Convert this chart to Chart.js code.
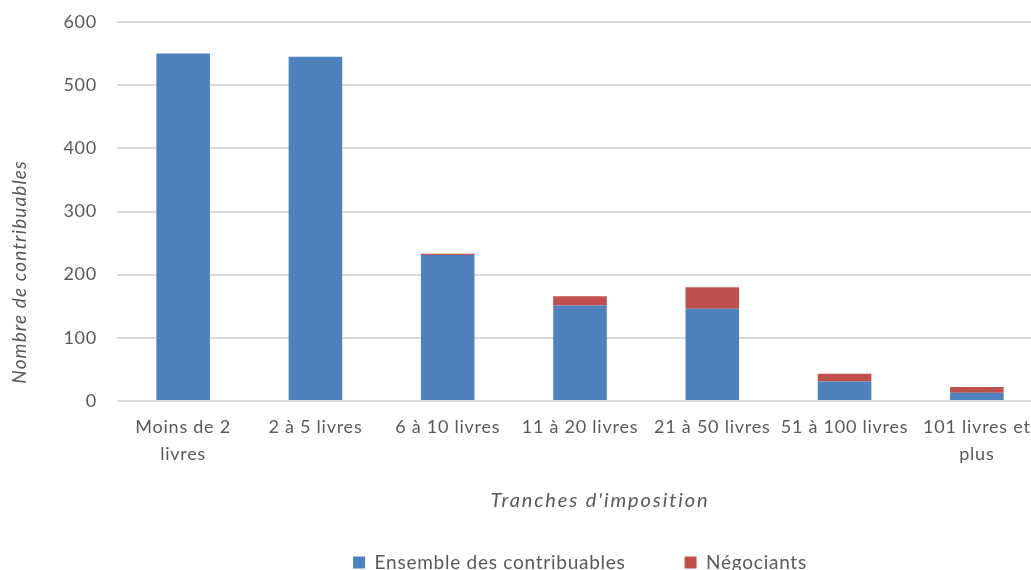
<!DOCTYPE html>
<html lang="fr">
<head>
<meta charset="utf-8">
<title>Nombre de contribuables par tranche d'imposition</title>
<script src="https://cdn.jsdelivr.net/npm/chart.js@4/dist/chart.umd.min.js"></script>
<style>
  html, body { margin: 0; padding: 0; background: #ffffff; overflow: hidden; }
  #wrap { width: 1045px; height: 582px; }
</style>
</head>
<body>
<div id="wrap"><canvas id="chart" width="1045" height="582"></canvas></div>
<script>
// Tranches d'imposition (multi-line labels as drawn under the axis)
const categories = [
  ["Moins de 2", "livres"],
  "2 à 5 livres",
  "6 à 10 livres",
  "11 à 20 livres",
  "21 à 50 livres",
  "51 à 100 livres",
  ["101 livres et", "plus"]
];

// Number of taxpayers in each bracket
const ensembleDesContribuables = [550, 545, 231, 151, 146, 31, 13];
const negociants = [0, 0, 2, 15, 34, 12, 9];

const seriesNames = ["Ensemble des contribuables", "Négociants"];
const yTicks = [0, 100, 200, 300, 400, 500, 600];
const xAxisTitle = "Tranches d'imposition";
const yAxisTitle = "Nombre de contribuables";

const FONT = "Lato, 'Open Sans', 'DejaVu Sans', sans-serif";
const TEXT_GREY = "#595959";

// Slightly open letter spacing for all chart text
const spacing = {
  id: 'spacing',
  beforeUpdate(chart, args, opts) { chart.ctx.letterSpacing = opts.value; },
  beforeDraw(chart, args, opts) { chart.ctx.letterSpacing = opts.value; }
};

// Axis titles placed like the spreadsheet layout (not centred on the plot)
const axisTitles = {
  id: 'axisTitles',
  afterDraw(chart, args, opts) {
    const { ctx, chartArea } = chart;
    ctx.save();
    ctx.fillStyle = opts.color;
    ctx.textAlign = 'center';
    ctx.textBaseline = 'middle';
    ctx.font = opts.xFont;
    ctx.letterSpacing = opts.xSpacing;
    ctx.fillText(opts.xText, chartArea.left + opts.xOffset, chartArea.bottom + opts.xDrop);
    ctx.font = opts.yFont;
    ctx.letterSpacing = opts.ySpacing;
    ctx.translate(opts.yLeft, chartArea.top + opts.yOffset);
    ctx.rotate(-Math.PI / 2);
    ctx.fillText(opts.yText, 0, 0);
    ctx.restore();
  }
};

new Chart(document.getElementById('chart'), {
  type: 'bar',
  data: {
    labels: categories,
    datasets: [
      {
        label: seriesNames[0],
        data: ensembleDesContribuables,
        backgroundColor: '#4F81BD',
        barPercentage: 0.405,
        categoryPercentage: 1
      },
      {
        label: seriesNames[1],
        data: negociants,
        backgroundColor: '#C0504D',
        barPercentage: 0.405,
        categoryPercentage: 1
      }
    ]
  },
  options: {
    responsive: false,
    animation: false,
    devicePixelRatio: 1,
    layout: { padding: { top: 22, right: 2, left: 0, bottom: 0 } },
    scales: {
      x: {
        stacked: true,
        grid: { display: false, drawTicks: false },
        border: { display: false },
        ticks: {
          color: TEXT_GREY,
          font: { family: FONT, size: 18, lineHeight: 1.5 },
          padding: 13,
          maxRotation: 0,
          autoSkip: false
        },
        afterFit(scale) { scale.height = 93; }
      },
      y: {
        stacked: true,
        min: yTicks[0],
        max: yTicks[yTicks.length - 1],
        afterBuildTicks(scale) { scale.ticks = yTicks.map(v => ({ value: v })); },
        grid: { color: '#d9d9d9', lineWidth: 2, drawTicks: false },
        border: { display: false },
        ticks: {
          color: TEXT_GREY,
          font: { family: FONT, size: 18 },
          padding: 20
        },
        afterFit(scale) {
          scale.width = 117;
          scale.paddingTop = 0;
          scale.paddingBottom = 0;
        }
      }
    },
    plugins: {
      legend: {
        position: 'bottom',
        fullSize: false,
        labels: {
          color: TEXT_GREY,
          font: { family: FONT, size: 19 },
          boxWidth: 12,
          boxHeight: 12,
          padding: 59
        }
      },
      tooltip: { enabled: false },
      spacing: { value: '0.75px' },
      axisTitles: {
        color: TEXT_GREY,
        xFont: "italic 20px " + FONT,
        xSpacing: '1.9px',
        xText: xAxisTitle,
        xOffset: 483,
        xDrop: 100,
        yFont: "italic 19px " + FONT,
        ySpacing: '1.1px',
        yText: yAxisTitle,
        yLeft: 20,
        yOffset: 250
      }
    }
  },
  plugins: [spacing, axisTitles]
});
</script>
</body>
</html>
